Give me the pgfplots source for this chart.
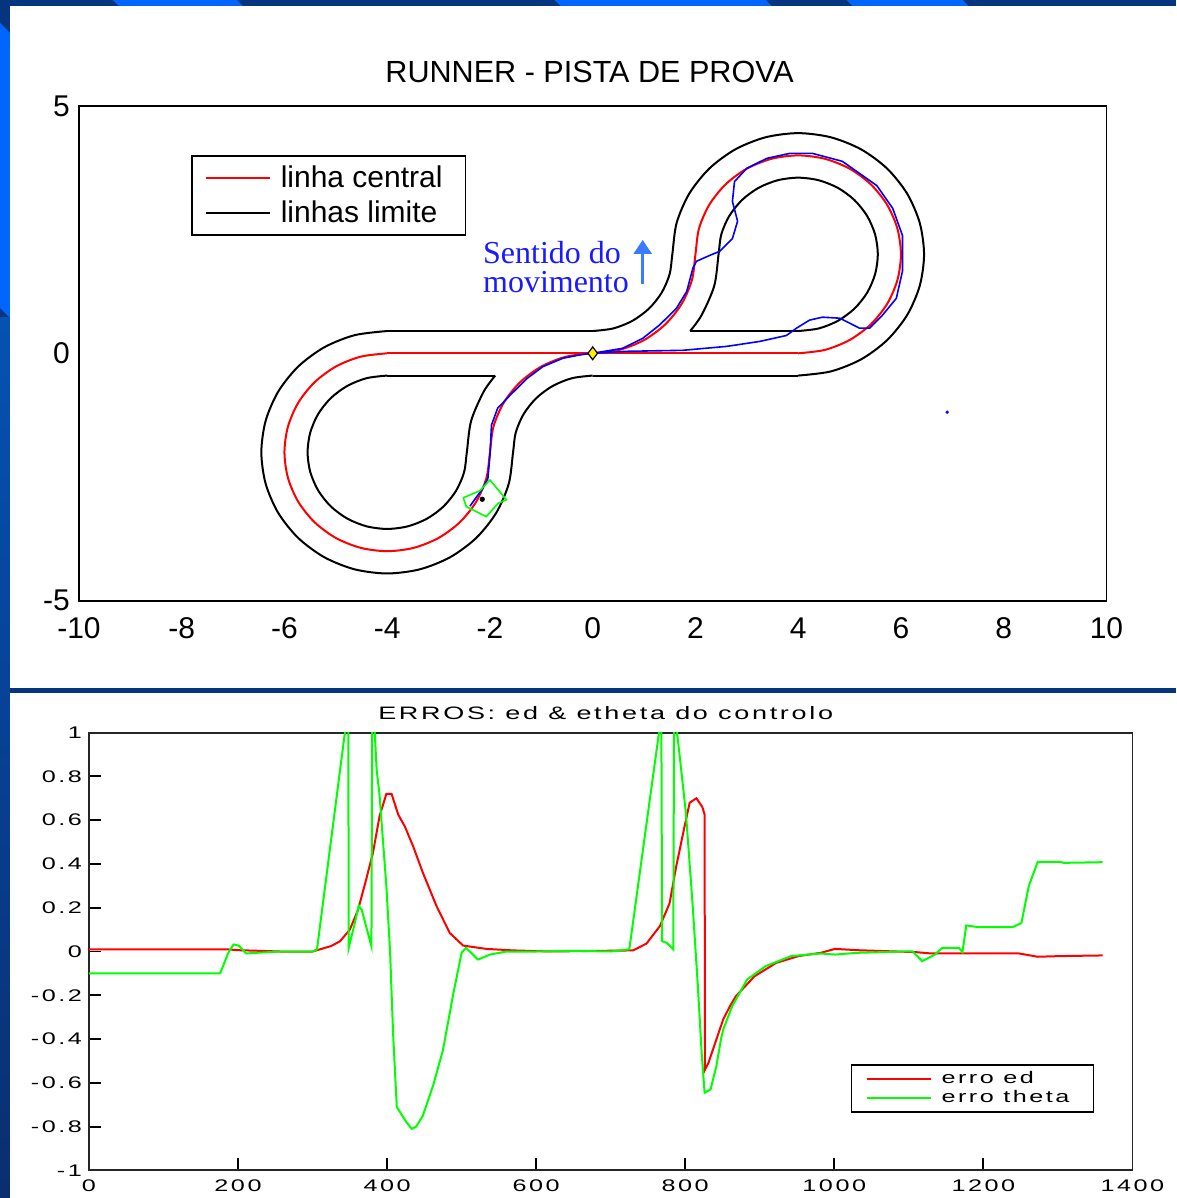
\documentclass[border=0pt]{standalone}
\usepackage{pgfplots}
\pgfplotsset{compat=1.18}
\usepackage{fontspec}
\setmainfont{Liberation Sans}
\newfontfamily\widefont[FakeStretch=1.5,LetterSpace=15]{Liberation Sans}
\newfontfamily\notefont{Liberation Serif}
\usetikzlibrary{arrows.meta}
\definecolor{navy}{HTML}{05357F}
\definecolor{lightb}{HTML}{0066FF}
\definecolor{midb}{HTML}{0552B4}
\definecolor{deepb}{HTML}{0A2E70}
\definecolor{mgreen}{HTML}{00FF00}
\definecolor{arrowb}{HTML}{3A7BFF}
\definecolor{noteb}{HTML}{1A1AFF}
\begin{document}
\begin{tikzpicture}
% ---------- slide background ----------
\begin{scope}[x=0.5pt,y=0.5pt]
\fill[navy] (0,0) rectangle (1177,1198);
\fill[lightb] (113,1198) -- (237,1198) -- (243,1192) -- (119,1192) -- cycle;
\fill[lightb] (555,1198) -- (766,1198) -- (772,1192) -- (561,1192) -- cycle;
\fill[lightb] (847,1198) -- (963,1198) -- (969,1192) -- (853,1192) -- cycle;
\fill[lightb] (0,1175) -- (10,1165) -- (10,880) -- (0,890) -- cycle;
\shade[top color=midb,bottom color=deepb] (0,0) rectangle (10,880);
\fill[white] (10,510) rectangle (1177,1192);
\fill[white] (10,0) rectangle (1177,505);
\end{scope}

% ---------- top: track ----------
\begin{axis}[
  at={(39.5pt,298.5pt)}, anchor=south west, scale only axis,
  width=514pt, height=247.5pt,
  xmin=-10, xmax=10, ymin=-5, ymax=5,
  xtick={-10,-8,-6,-4,-2,0,2,4,6,8,10},
  xticklabels={-10,-8,-6,-4,-2,0,2,4,6,8,10},
  ytick={-5,0,5}, yticklabels={-5,0,5},
  major tick length=0pt,
  axis line style={line width=0.9pt},
  tick label style={font=\fontsize{15}{18}\selectfont},
  xticklabel style={yshift=-5pt},
  yticklabel style={xshift=-1pt},
  legend style={at={(0.109,0.901)}, anchor=north west, draw=black,
    line width=0.9pt, font=\fontsize{15}{18}\selectfont,
    inner xsep=6.5pt, inner ysep=3.5pt, row sep=2pt,
    nodes={inner ysep=1.5pt, inner xsep=5pt}},
  legend cell align=left,
  legend image code/.code={\draw[#1] (0pt,0pt) -- (27pt,0pt); \path (0pt,0pt) -- (32pt,0pt);},
]
% center line
\addplot[red, line width=1pt, smooth] coordinates {
(0,0) (0.5176,0.0681) (1,0.2679) (1.4142,0.5858) (1.7321,1) (1.9319,1.4824) (2,2)
(2.0681,2.5176) (2.2679,3) (2.5858,3.4142) (3,3.7321) (3.4824,3.9319) (4,4)
(4.5176,3.9319) (5,3.7321) (5.4142,3.4142) (5.7321,3) (5.9319,2.5176) (6,2)
(5.9319,1.4824) (5.7321,1) (5.4142,0.5858) (5,0.2679) (4.5176,0.0681) (4,0)
};
\addlegendentry{linha central}
% outer boundary (straight parts)
\addplot[black, line width=1pt] coordinates {(-4,0.45) (0,0.45)};
\addlegendentry{linhas limite}
\addplot[red, line width=1pt, forget plot] coordinates {(4,0) (-4,0)};
\addplot[red, line width=1pt, smooth, forget plot] coordinates {
(-4,0) (-4.5176,-0.0681) (-5,-0.2679) (-5.4142,-0.5858) (-5.7321,-1) (-5.9319,-1.4824) (-6,-2)
(-5.9319,-2.5176) (-5.7321,-3) (-5.4142,-3.4142) (-5,-3.7321) (-4.5176,-3.9319) (-4,-4)
(-3.4824,-3.9319) (-3,-3.7321) (-2.5858,-3.4142) (-2.2679,-3) (-2.0681,-2.5176) (-2,-2)
(-1.9319,-1.4824) (-1.7321,-1) (-1.4142,-0.5858) (-1,-0.2679) (-0.5176,-0.0681) (0,0)
};
\addplot[black, line width=1pt, smooth, forget plot] coordinates {
(0,0.45) (0.4012,0.5028) (0.775,0.6577) (1.0960,0.9040) (1.3423,1.225) (1.4972,1.5988) (1.55,2)
(1.6335,2.6341) (1.8782,3.225) (2.2676,3.7324) (2.775,4.1218) (3.3659,4.3665) (4,4.45)
(4.6341,4.3665) (5.225,4.1218) (5.7324,3.7324) (6.1218,3.225) (6.3665,2.6341) (6.45,2)
(6.3665,1.3659) (6.1218,0.775) (5.7324,0.2676) (5.225,-0.1218) (4.6341,-0.3665) (4,-0.45)
};
\addplot[black, line width=1pt, forget plot] coordinates {(4,-0.45) (0,-0.45)};
\addplot[black, line width=1pt, smooth, forget plot] coordinates {
(0,-0.45) (-0.4012,-0.5028) (-0.775,-0.6577) (-1.0960,-0.9040) (-1.3423,-1.225) (-1.4972,-1.5988) (-1.55,-2)
(-1.6335,-2.6341) (-1.8782,-3.225) (-2.2676,-3.7324) (-2.775,-4.1218) (-3.3659,-4.3665) (-4,-4.45)
(-4.6341,-4.3665) (-5.225,-4.1218) (-5.7324,-3.7324) (-6.1218,-3.225) (-6.3665,-2.6341) (-6.45,-2)
(-6.3665,-1.3659) (-6.1218,-0.775) (-5.7324,-0.2676) (-5.225,0.1218) (-4.6341,0.3665) (-4,0.45)
};
% inner right teardrop
\addplot[black, line width=1pt, forget plot] coordinates {(1.897,0.45) (4,0.45)};
\addplot[black, line width=1pt, smooth, forget plot] coordinates {
(4,0.45) (4.4012,0.5028) (4.775,0.6577) (5.0960,0.9040) (5.3423,1.225) (5.4972,1.5988) (5.55,2)
(5.4972,2.4012) (5.3423,2.775) (5.0960,3.0960) (4.775,3.3423) (4.4012,3.4972) (4,3.55)
(3.5988,3.4972) (3.225,3.3423) (2.9040,3.0960) (2.6577,2.775) (2.5028,2.4012) (2.45,2)
(2.3665,1.3659) (2.1218,0.775) (1.897,0.45)
};
% inner left teardrop
\addplot[black, line width=1pt, forget plot] coordinates {(-1.897,-0.45) (-4,-0.45)};
\addplot[black, line width=1pt, smooth, forget plot] coordinates {
(-4,-0.45) (-4.4012,-0.5028) (-4.775,-0.6577) (-5.0960,-0.9040) (-5.3423,-1.225) (-5.4972,-1.5988) (-5.55,-2)
(-5.4972,-2.4012) (-5.3423,-2.775) (-5.0960,-3.0960) (-4.775,-3.3423) (-4.4012,-3.4972) (-4,-3.55)
(-3.5988,-3.4972) (-3.225,-3.3423) (-2.9040,-3.0960) (-2.6577,-2.775) (-2.5028,-2.4012) (-2.45,-2)
(-2.3665,-1.3659) (-2.1218,-0.775) (-1.897,-0.45)
};
% robot trajectory
\addplot[blue, line width=0.8pt, forget plot] coordinates {
(-2.39,-3.09) (-2.14,-2.73) (-2.04,-2.53) (-2.0,-2.06) (-1.97,-1.45) (-1.85,-1.11)
(-1.61,-0.85) (-1.28,-0.51) (-0.97,-0.27) (-0.58,-0.1) (-0.19,-0.02) (0,0)
(0.58,0.1) (0.97,0.3) (1.3,0.57) (1.63,0.91) (1.83,1.25) (1.95,1.72) (2.02,1.86)
(2.28,1.98) (2.47,2.06) (2.72,2.32) (2.82,2.67) (2.72,3.07) (2.76,3.47) (3.0,3.74)
(3.39,3.94) (3.83,4.04) (4.28,4.04) (4.86,3.88) (5.53,3.39) (5.84,2.93) (6.03,2.38)
(6.03,1.66) (5.91,1.11) (5.64,0.77) (5.39,0.51) (5.19,0.51) (4.81,0.71) (4.47,0.73)
(4.22,0.67) (3.97,0.51) (3.77,0.36) (3.25,0.24) (2.61,0.14) (1.75,0.06) (0.66,0.04) (0,0)
};
\addplot[blue, only marks, mark=*, mark size=0.6pt, forget plot] coordinates {(6.9,-1.19)};
% robot body
\addplot[mgreen, line width=0.8pt, forget plot] coordinates {
(-2.52,-2.92) (-2.20,-2.78) (-2.0,-2.56) (-1.68,-2.96) (-1.84,-3.03) (-2.07,-3.30) (-2.46,-3.10) (-2.52,-2.92)
};
\addplot[black, only marks, mark=*, mark size=1.1pt, forget plot] coordinates {(-2.15,-2.95)};
\addplot[only marks, mark=diamond*, mark size=3.2pt, mark options={fill=yellow, draw=black, line width=0.6pt}, forget plot] coordinates {(0,0)};
\end{axis}

% title and annotation of the top panel, title of the bottom panel
\begin{scope}[x=0.5pt,y=0.5pt]
\node[font=\fontsize{15.3}{18}\selectfont, inner sep=0pt] at (590,1126) {RUNNER - PISTA DE PROVA};
\node[font=\notefont\fontsize{16}{14.5}\selectfont, text=noteb, inner sep=0pt, anchor=north west, align=left]
  at (483,957) {Sentido do\\movimento};
\draw[arrowb, line width=1.2pt, -{Triangle[width=9pt,length=7pt]}] (643,914) -- (643,958);
\node[font=\widefont\fontsize{9}{11}\selectfont, inner sep=0pt] at (606,485) {ERROS: ed \& etheta do controlo};
\end{scope}

% ---------- bottom: errors ----------
\begin{axis}[
  at={(44.5pt,13.5pt)}, anchor=south west, scale only axis,
  width=522pt, height=219pt,
  xmin=0, xmax=1400, ymin=-1, ymax=1,
  xtick={0,200,400,600,800,1000,1200,1400},
  xticklabels={0,200,400,600,800,1000,1200,1400},
  ytick={-1,-0.8,-0.6,-0.4,-0.2,0,0.2,0.4,0.6,0.8,1},
  yticklabels={-1,-0.8,-0.6,-0.4,-0.2,0,0.2,0.4,0.6,0.8,1},
  tick align=inside, xtick pos=left, ytick pos=left,
  major tick length=6pt,
  tick style={line width=0.9pt, black},
  axis line style={line width=0.9pt, black!85},
  tick label style={font=\widefont\fontsize{8.4}{10}\selectfont},
  xticklabel style={yshift=-1pt},
  legend style={at={(0.730,0.242)}, anchor=north west, draw=black,
    line width=0.9pt, font=\widefont\fontsize{8.4}{10}\selectfont,
    inner xsep=7pt, inner ysep=2pt, row sep=0pt,
    nodes={inner ysep=1pt, inner xsep=5pt}},
  legend cell align=left,
  legend image code/.code={\draw[#1] (0pt,0pt) -- (27pt,0pt); \path (0pt,0pt) -- (32pt,0pt);},
]
\addplot[red, line width=1pt] coordinates {
(0,0.01) (185,0.01) (200,0.006) (230,0.003) (256,0) (300,0) (310,0.01) (325,0.025)
(337,0.047) (350,0.10) (361,0.19) (372,0.33) (381,0.45) (390,0.62) (399,0.72) (406,0.72)
(415,0.625) (424,0.57) (435,0.48) (448,0.36) (466,0.21) (484,0.085) (502,0.027) (533,0.012)
(569,0.005) (620,0) (730,0.005) (748,0.036) (766,0.116) (779,0.22) (788,0.39) (799,0.57)
(806,0.68) (815,0.70) (823,0.66) (826,0.625) (826.5,-0.54) (831,-0.51) (842,-0.40) (851,-0.31)
(860,-0.25) (868,-0.204) (893,-0.113) (922,-0.052) (952,-0.021) (982,-0.006) (1001,0.012)
(1031,0.006) (1110,-0.003) (1130,-0.009) (1248,-0.009) (1273,-0.024) (1303,-0.021) (1360,-0.018)
};
\addlegendentry{erro ed}
\addplot[mgreen, line width=1pt] coordinates {
(0,-0.10) (176,-0.10) (187,-0.006) (194,0.032) (201,0.027) (211,-0.009) (225,-0.006) (252,-0.001)
(300,0) (306,0.01) (343,0.99) (346,1.03) (348,1.03) (348.5,0.017) (356,0.12) (362,0.21) (366,0.19)
(379,0.024) (380,1.03) (383,1.03) (386,0.83) (390,0.71) (399,0.30) (404,0) (408,-0.37) (413,-0.71)
(426,-0.78) (433,-0.81) (439,-0.80) (448,-0.75) (462,-0.61) (475,-0.45) (489,-0.19) (500,-0.006)
(506,0.017) (522,-0.037) (538,-0.014) (560,0) (600,0) (650,0.003) (700,0) (725,0.01)
(766,1.03) (768,1.03) (769,0.047) (775,0.04) (784,0.01) (785,1.03) (788,1.03) (793,0.88) (801,0.63)
(810,0.21) (817,-0.16) (822,-0.46) (826,-0.645) (834,-0.63) (842,-0.52) (848,-0.40) (851,-0.356)
(863,-0.25) (883,-0.128) (908,-0.067) (942,-0.021) (982,-0.009) (1001,-0.014) (1031,-0.006)
(1105,0.001) (1118,-0.044) (1135,-0.014) (1145,0.017) (1167,0.017) (1172,-0.003) (1177,0.119)
(1194,0.111) (1239,0.111) (1251,0.13) (1261,0.30) (1273,0.41) (1303,0.41) (1308,0.405) (1360,0.408)
};
\addlegendentry{erro theta}
\end{axis}
\end{tikzpicture}
\end{document}
